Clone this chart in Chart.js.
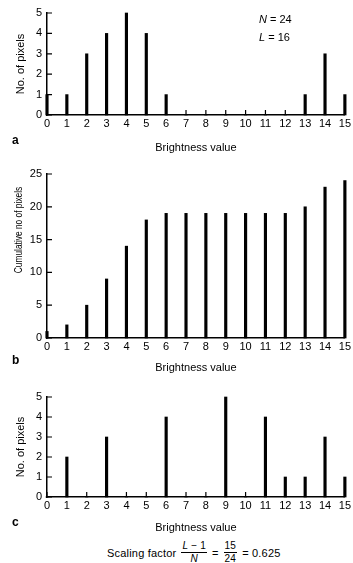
<!DOCTYPE html>
<html>
<head>
<meta charset="utf-8">
<script src="https://cdn.jsdelivr.net/npm/chart.js@4"></script>
<style>
  html,body{margin:0;padding:0;background:#fff;}
  body{width:353px;height:563px;position:relative;overflow:hidden;font-family:"Liberation Sans",Arial,sans-serif;color:#000;}
  .pane{position:absolute;left:0;width:353px;}
  .lbl{position:absolute;font-size:12px;line-height:12px;font-weight:bold;}
  .note{position:absolute;font-size:11px;line-height:12px;white-space:nowrap;}
  .ytitle{position:absolute;font-size:11px;line-height:12px;white-space:nowrap;transform:translate(-50%,-50%) rotate(-90deg) scaleX(0.76);}
  .formula{position:absolute;left:107px;top:541px;display:flex;align-items:center;font-size:11px;letter-spacing:0.2px;white-space:nowrap;}
  .frac{display:inline-flex;flex-direction:column;align-items:center;margin:0 5px;font-size:10px;line-height:10px;}
  .frac .num{border-bottom:1px solid #000;padding:0 1px 1px 1px;}
  .frac .den{padding-top:1px;}
</style>
</head>
<body>
<div class="pane" style="top:0;height:160px;"><canvas id="cA"></canvas></div>
<div class="pane" style="top:160px;height:220px;"><canvas id="cB"></canvas></div>
<div class="pane" style="top:380px;height:160px;"><canvas id="cC"></canvas></div>

<div class="ytitle" id="yTitleB" style="left:18px;top:230px;"></div>

<div class="lbl" style="left:12px;top:134px;">a</div>
<div class="lbl" style="left:12px;top:354px;">b</div>
<div class="lbl" style="left:12px;top:516px;">c</div>

<div class="note" style="left:259px;top:13px;"><i>N</i> = 24</div>
<div class="note" style="left:259px;top:31px;"><i>L</i> = 16</div>

<div class="formula">
  <span>Scaling factor</span>
  <span class="frac"><span class="num"><i>L</i> − 1</span><span class="den"><i>N</i></span></span>
  <span>=</span>
  <span class="frac"><span class="num">15</span><span class="den">24</span></span>
  <span>= 0.625</span>
</div>

<script>
// ---- data ----
const brightness = [0,1,2,3,4,5,6,7,8,9,10,11,12,13,14,15];
const histogramA = [1,1,3,4,5,4,1,0,0,0,0,0,0,1,3,1];
const cumulativeB = [1,2,5,9,14,18,19,19,19,19,19,19,19,20,23,24];
const histogramC = [0,2,0,3,0,0,4,0,0,5,0,4,1,1,3,1];
const xTitle = 'Brightness value';
const yTitleA = 'No. of pixels';
const yTitleB = 'Cumulative no of pixels';
const yTitleC = 'No. of pixels';

const FONT = '"Liberation Sans", Arial, sans-serif';
document.getElementById('yTitleB').textContent = yTitleB;

// inward tick marks drawn through the chart's own scales
const inwardTicks = {
  id: 'inwardTicks',
  afterDraw(chart) {
    const {ctx, chartArea, scales} = chart;
    ctx.save();
    ctx.strokeStyle = '#000';
    ctx.lineWidth = 1.2;
    ctx.beginPath();
    scales.y.ticks.forEach(t => {
      const py = scales.y.getPixelForValue(t.value);
      ctx.moveTo(chartArea.left, py);
      ctx.lineTo(chartArea.left + 5, py);
    });
    scales.x.ticks.forEach(t => {
      const px = scales.x.getPixelForValue(t.value);
      ctx.moveTo(px, chartArea.bottom);
      ctx.lineTo(px, chartArea.bottom - 5);
    });
    ctx.stroke();
    ctx.restore();
  }
};

function makeChart(id, values, yMax, yStep, yTitle, yTitlePad, padTop, xH) {
  const pts = brightness.map((b, i) => ({x: b, y: values[i]}));
  return new Chart(document.getElementById(id), {
    type: 'bar',
    data: {
      datasets: [{
        data: pts,
        backgroundColor: '#000',
        borderWidth: 0,
        barThickness: 2.5,
        clip: false
      }]
    },
    options: {
      responsive: true,
      maintainAspectRatio: false,
      animation: false,
      events: [],
      layout: {padding: {top: padTop, right: 2, bottom: 0, left: 0}},
      plugins: {legend: {display: false}, tooltip: {enabled: false}},
      scales: {
        x: {
          type: 'linear',
          min: 0, max: 15,
          offset: false,
          grid: {display: false, drawTicks: false},
          border: {display: true, color: '#000', width: 1.5},
          ticks: {stepSize: 1, color: '#000', padding: 2, maxRotation: 0, autoSkip: false,
                  font: {family: FONT, size: 11}},
          title: {display: true, text: xTitle, color: '#000',
                  font: {family: FONT, size: 11}, padding: {top: 0, bottom: 5}},
          afterFit: s => { s.height = xH; }
        },
        y: {
          min: 0, max: yMax,
          grid: {display: false, drawTicks: false},
          border: {display: true, color: '#000', width: 1.5},
          ticks: {stepSize: yStep, color: '#000', padding: 5, font: {family: FONT, size: 11}},
          title: {display: !!yTitle, text: yTitle, color: '#000',
                  font: {family: FONT, size: 11}, padding: {top: yTitlePad, bottom: 0}},
          afterFit: s => { s.width = 47; }
        }
      }
    },
    plugins: [inwardTicks]
  });
}

makeChart('cA', histogramA, 5, 1, yTitleA, 14, 13, 45);
makeChart('cB', cumulativeB, 25, 5, '', 10, 14, 42);
makeChart('cC', histogramC, 5, 1, yTitleC, 14, 17, 43);
</script>
</body>
</html>
